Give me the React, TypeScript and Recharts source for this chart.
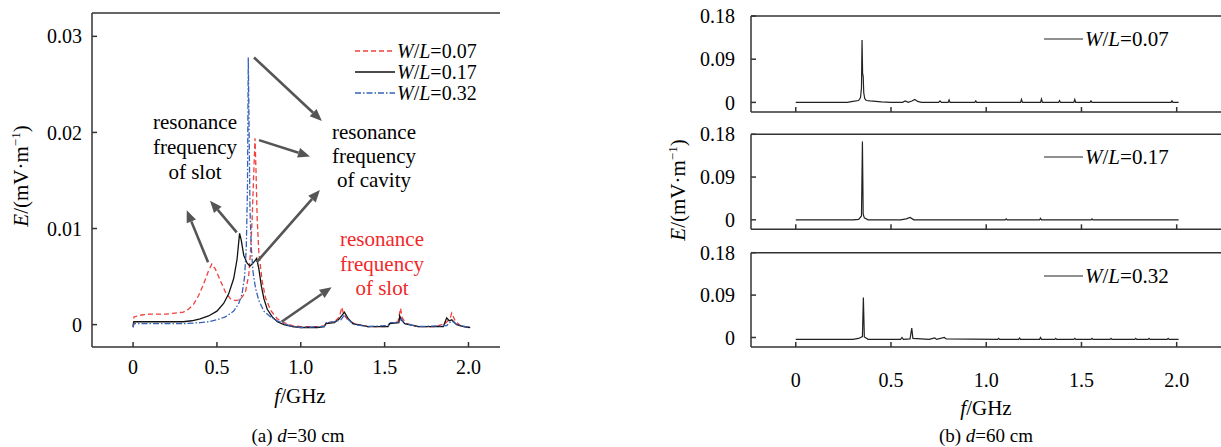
import React from 'react';
import { LineChart, Line, XAxis, YAxis, ReferenceLine } from 'recharts';

const FONT = '"Liberation Serif", "Times New Roman", serif';
const AXIS = '#333';

// ---- (a) d = 30 cm : f in GHz, E in mV/m ----
const fA07 = [0, 0.005, 0.05, 0.1, 0.2, 0.25, 0.3, 0.33, 0.36, 0.39, 0.42, 0.45, 0.47, 0.49, 0.52, 0.55, 0.58, 0.61, 0.64, 0.67, 0.69, 0.7, 0.71, 0.72, 0.727, 0.733, 0.74, 0.75, 0.77, 0.79, 0.82, 0.86, 0.9, 0.95, 1.0, 1.1, 1.14, 1.16, 1.2, 1.23, 1.245, 1.255, 1.28, 1.32, 1.4, 1.5, 1.53, 1.58, 1.595, 1.605, 1.63, 1.7, 1.8, 1.86, 1.89, 1.9, 1.92, 1.95, 2.0, 2.01];
const eA07 = [-0.0002, 0.0008, 0.001, 0.0011, 0.0011, 0.0012, 0.0013, 0.0016, 0.0021, 0.003, 0.0042, 0.0056, 0.0063, 0.0058, 0.0046, 0.0034, 0.0027, 0.0025, 0.0026, 0.0034, 0.0052, 0.0075, 0.011, 0.016, 0.0194, 0.016, 0.011, 0.0075, 0.0045, 0.0028, 0.0015, 0.0006, 0.0002, -0.0001, -0.0002, -0.0002, -0.0001, 0.0002, 0.0003, 0.0008, 0.0018, 0.0011, 0.0005, 0.0001, -0.0002, -0.0002, 0.0001, 0.0003, 0.0017, 0.0007, 0.0001, -0.0002, -0.0002, 0.0001, 0.0006, 0.0012, 0.0004, -0.0001, -0.0003, -0.0003];

const fA17 = [0, 0.005, 0.1, 0.2, 0.3, 0.35, 0.4, 0.45, 0.5, 0.54, 0.57, 0.6, 0.62, 0.635, 0.645, 0.66, 0.68, 0.697, 0.71, 0.725, 0.737, 0.75, 0.765, 0.78, 0.8, 0.83, 0.86, 0.9, 0.95, 1.0, 1.1, 1.14, 1.15, 1.2, 1.23, 1.26, 1.28, 1.31, 1.4, 1.52, 1.53, 1.585, 1.59, 1.6, 1.62, 1.7, 1.85, 1.87, 1.885, 1.9, 1.93, 1.97, 2.01];
const eA17 = [-0.0002, 0.0003, 0.0003, 0.0003, 0.0003, 0.0004, 0.0006, 0.0009, 0.0014, 0.0022, 0.0032, 0.0048, 0.0068, 0.0095, 0.0088, 0.0072, 0.0064, 0.0061, 0.0063, 0.0066, 0.0069, 0.0058, 0.004, 0.0027, 0.0016, 0.0008, 0.0003, 0, -0.0002, -0.0003, -0.0003, -0.0002, 0.0001, 0.0002, 0.0006, 0.0013, 0.0007, 0.0001, -0.0002, -0.0002, 0.0001, 0.0002, 0.0009, 0.0005, 0.0001, -0.0002, -0.0002, 0.0007, 0.0004, 0.0005, 0, -0.0002, -0.0003];

const fA32 = [0, 0.005, 0.1, 0.2, 0.3, 0.4, 0.45, 0.5, 0.55, 0.6, 0.63, 0.65, 0.665, 0.675, 0.682, 0.687, 0.692, 0.697, 0.705, 0.715, 0.73, 0.75, 0.78, 0.82, 0.86, 0.9, 0.95, 1.0, 1.14, 1.15, 1.2, 1.24, 1.26, 1.29, 1.32, 1.4, 1.52, 1.53, 1.58, 1.6, 1.62, 1.7, 1.87, 1.9, 1.93, 2.01];
const eA32 = [-0.0003, 0.0001, 0.0001, 0.0001, 0.0001, 0.0002, 0.0003, 0.0005, 0.0008, 0.0014, 0.0022, 0.0032, 0.005, 0.008, 0.014, 0.0278, 0.02, 0.012, 0.008, 0.0055, 0.0038, 0.0025, 0.0014, 0.0008, 0.0004, 0.0001, -0.0002, -0.0003, -0.0002, 0.0002, 0.0003, 0.0005, 0.001, 0.0004, 0, -0.0002, -0.0001, 0.0002, 0.0002, 0.0006, 0.0001, -0.0002, -0.0001, 0.0004, 0, -0.0003];

// ---- (b) d = 60 cm ----
const fB07 = [0, 0.1, 0.2, 0.27, 0.3, 0.33, 0.34, 0.345, 0.348, 0.351, 0.354, 0.357, 0.362, 0.37, 0.39, 0.42, 0.45, 0.5, 0.56, 0.575, 0.59, 0.61, 0.625, 0.64, 0.66, 0.75, 0.757, 0.765, 0.8, 0.805, 0.81, 0.94, 0.945, 0.95, 1.18, 1.185, 1.19, 1.285, 1.29, 1.295, 1.38, 1.385, 1.39, 1.46, 1.465, 1.47, 1.545, 1.55, 1.555, 1.97, 1.975, 1.98, 2.01];
const eB07 = [0, 0, 0, 0, 0.002, 0.004, 0.01, 0.03, 0.13, 0.06, 0.055, 0.02, 0.008, 0.004, 0.003, 0.002, 0.001, 0, 0, 0.003, 0, 0.003, 0.006, 0.002, 0, 0, 0.003, 0, 0, 0.005, 0, 0, 0.003, 0, 0, 0.006, 0, 0, 0.007, 0, 0, 0.004, 0, 0, 0.006, 0, 0, 0.003, 0, 0, 0.003, 0, 0];

const fB17 = [0, 0.3, 0.33, 0.345, 0.35, 0.354, 0.36, 0.38, 0.55, 0.58, 0.6, 0.62, 1.0, 1.1, 1.105, 1.11, 1.28, 1.285, 1.29, 1.55, 1.555, 1.56, 2.01];
const eB17 = [0, 0, 0.001, 0.008, 0.165, 0.012, 0.004, 0, 0, 0.002, 0.005, 0, 0, 0, 0.002, 0, 0, 0.003, 0, 0, 0.002, 0, 0];

const fB32 = [0, 0.3, 0.33, 0.35, 0.355, 0.36, 0.38, 0.55, 0.558, 0.565, 0.6, 0.609, 0.615, 0.7, 0.73, 0.74, 0.78, 0.79, 1.06, 1.065, 1.07, 1.17, 1.175, 1.18, 1.28, 1.285, 1.29, 1.36, 1.365, 1.37, 1.46, 1.465, 1.47, 1.55, 1.555, 1.56, 1.65, 1.655, 1.66, 1.78, 1.785, 1.79, 1.85, 1.855, 1.86, 1.95, 1.955, 1.96, 2.01];
const eB32 = [-0.004, -0.004, -0.002, 0.002, 0.085, 0.001, -0.004, -0.004, 0, -0.004, -0.003, 0.02, -0.002, -0.004, -0.001, -0.004, 0, -0.003, -0.004, -0.002, -0.004, -0.004, -0.001, -0.004, -0.004, 0, -0.004, -0.004, -0.002, -0.004, -0.004, -0.002, -0.004, -0.004, -0.002, -0.004, -0.004, -0.002, -0.004, -0.004, -0.002, -0.004, -0.004, -0.002, -0.004, -0.004, -0.002, -0.004, -0.004];

const xTicks = [0, 0.5, 1, 1.5, 2];
const yTicksA = [0, 0.01, 0.02, 0.03];
const yTicksB = [0, 0.09, 0.18];

// arrows of panel (a), [from, to] in data coordinates
const arrowsA = [
  [[0.721, 0.0278], [1.126, 0.0212]],
  [[0.751, 0.0192], [1.055, 0.0175]],
  [[0.737, 0.0065], [1.114, 0.014]],
  [[0.618, 0.0096], [0.459, 0.0129]],
  [[0.447, 0.0065], [0.32, 0.0119]],
  [[0.886, 0.0003], [1.184, 0.0039]],
];

const zip = (f: number[], e: number[]) => f.map((x, i) => ({ f: x, e: e[i] }));

const seriesA = [
  { name: '0.07', data: zip(fA07, eA07), color: '#f0403c', dash: '5 3' },
  { name: '0.17', data: zip(fA17, eA17), color: '#111', dash: undefined },
  { name: '0.32', data: zip(fA32, eA32), color: '#3562b8', dash: '6 2 1.5 2' },
];

const panelsB = [
  { name: '0.07', data: zip(fB07, eB07), top: 16, h: 96 },
  { name: '0.17', data: zip(fB17, eB17), top: 134.3, h: 95 },
  { name: '0.32', data: zip(fB32, eB32), top: 252.7, h: 94.2 },
];

const fmtX = (v: number) => (v === 0 ? '0' : v.toFixed(1));
const fmtY = (v: number) => (v === 0 ? '0' : v.toFixed(2));

const tickStyle = { fill: '#000', fontSize: 20, fontFamily: FONT };

const Arrow = (p: any) => {
  const { x1, y1, x2, y2 } = p;
  const a = Math.atan2(y2 - y1, x2 - x1);
  const len = 12;
  const half = 5;
  const bx = x2 - len * Math.cos(a);
  const by = y2 - len * Math.sin(a);
  const nx = -Math.sin(a) * half;
  const ny = Math.cos(a) * half;
  return (
    <g>
      <line x1={x1} y1={y1} x2={bx} y2={by} stroke="#555" strokeWidth={2.6} />
      <polygon points={`${x2},${y2} ${bx + nx},${by + ny} ${bx - nx},${by - ny}`} fill="#555" />
    </g>
  );
};

const WL = ({ v }: { v: string }) => (
  <span><i>W</i>/<i>L</i>={v}</span>
);

const abs = (left: number, top: number, extra: React.CSSProperties = {}): React.CSSProperties => ({
  position: 'absolute', left, top, ...extra,
});

const centered = (cx: number, cy: number, extra: React.CSSProperties = {}): React.CSSProperties => ({
  position: 'absolute', left: cx, top: cy, transform: 'translate(-50%, -50%)', whiteSpace: 'nowrap', ...extra,
});

const yTitle = (
  <span><i>E</i>/(mV·m<sup style={{ fontSize: 13 }}>−1</sup>)</span>
);

export default function App() {
  return (
    <div style={{ position: 'absolute', left: 0, top: 0, width: 1221, height: 447, background: '#fff', fontFamily: FONT, fontSize: 21, color: '#000', overflow: 'hidden' }}>
      {/* (a) d=30 cm */}
      <div style={abs(0, 0)}>
        <LineChart width={520} height={447} margin={{ top: 13, right: 20, left: 32, bottom: 60 }}>
          <XAxis type="number" dataKey="f" domain={[-0.245, 2.188]} ticks={xTicks} allowDataOverflow
            tickFormatter={fmtX} tickSize={-5} tickMargin={18} height={40}
            stroke={AXIS} strokeWidth={1.5} tick={tickStyle} />
          <YAxis type="number" dataKey="e" domain={[-0.00233, 0.03243]} ticks={yTicksA} allowDataOverflow
            tickFormatter={fmtY} tickSize={-5} tickMargin={15} width={60}
            stroke={AXIS} strokeWidth={1.5} tick={tickStyle} />
          <ReferenceLine y={0.03243} stroke={AXIS} strokeWidth={1.5} ifOverflow="visible" />
          {seriesA.map((s) => (
            <Line key={s.name} data={s.data} dataKey="e" type="linear" stroke={s.color}
              strokeWidth={1.3} strokeDasharray={s.dash} dot={false} isAnimationActive={false} />
          ))}
          {arrowsA.map((a, i) => (
            <ReferenceLine key={i} ifOverflow="visible"
              segment={[{ x: a[0][0], y: a[0][1] }, { x: a[1][0], y: a[1][1] }]}
              shape={Arrow} />
          ))}
        </LineChart>
      </div>

      {/* legend (a) */}
      {seriesA.map((s, i) => (
        <div key={s.name} style={{ position: 'absolute', left: 355, top: 51 + i * 21, transform: 'translateY(-50%)', display: 'flex', alignItems: 'center', whiteSpace: 'nowrap', lineHeight: '18px', fontSize: 20 }}>
          <svg width={42} height={6}><line x1={0} y1={3} x2={40} y2={3} stroke={s.color} strokeWidth={1.3} strokeDasharray={s.dash} /></svg>
          <WL v={s.name} />
        </div>
      ))}

      {/* annotations (a) */}
      <div style={{ position: 'absolute', left: 195, top: 110, transform: 'translateX(-50%)', textAlign: 'center', lineHeight: '24.8px', whiteSpace: 'nowrap' }}>
        resonance<br />frequency<br />of slot
      </div>
      <div style={{ position: 'absolute', left: 374, top: 119.5, transform: 'translateX(-50%)', textAlign: 'center', lineHeight: '24.2px', whiteSpace: 'nowrap' }}>
        resonance<br />frequency<br />of cavity
      </div>
      <div style={{ position: 'absolute', left: 382, top: 227, transform: 'translateX(-50%)', textAlign: 'center', lineHeight: '24.5px', whiteSpace: 'nowrap', color: '#f0282a' }}>
        resonance<br />frequency<br />of slot
      </div>

      <div style={centered(21, 176, { transform: 'translate(-50%, -50%) rotate(-90deg)' })}>{yTitle}</div>
      <div style={centered(300, 396)}><i>f</i>/GHz</div>
      <div style={centered(298, 436, { fontSize: 19 })}>(a) <i>d</i>=30 cm</div>

      {/* (b) d=60 cm */}
      {panelsB.map((p, i) => {
        const last = i === panelsB.length - 1;
        return (
          <div key={p.name} style={abs(680, 0)}>
            <LineChart width={541} height={447} margin={{ top: p.top, right: 0, left: 0, bottom: 447 - p.top - p.h - 40 }}>
              <XAxis type="number" dataKey="f" domain={[-0.235, 2.2326]} ticks={xTicks} allowDataOverflow
                tickFormatter={last ? fmtX : () => ''} tickSize={-5} tickMargin={31} height={40}
                stroke={AXIS} strokeWidth={1.5} tick={tickStyle} />
              <YAxis type="number" dataKey="e" domain={[-0.02, 0.18]} ticks={yTicksB} allowDataOverflow
                tickFormatter={fmtY} tickSize={-5} tickMargin={21} width={71}
                stroke={AXIS} strokeWidth={1.5} tick={tickStyle} />
              <ReferenceLine y={0.18} stroke={AXIS} strokeWidth={1.5} ifOverflow="visible" />
              <Line data={p.data} dataKey="e" type="linear" stroke="#222" strokeWidth={1.2}
                dot={false} isAnimationActive={false} />
            </LineChart>
          </div>
        );
      })}

      {/* legends (b) */}
      {panelsB.map((p) => (
        <div key={p.name} style={{ position: 'absolute', left: 1044, top: p.top + 23, transform: 'translateY(-50%)', display: 'flex', alignItems: 'center', whiteSpace: 'nowrap', lineHeight: '20px' }}>
          <svg width={41} height={6}><line x1={0} y1={3} x2={39} y2={3} stroke="#222" strokeWidth={1.2} /></svg>
          <WL v={p.name} />
        </div>
      ))}

      <div style={centered(678, 190, { transform: 'translate(-50%, -50%) rotate(-90deg)' })}>{yTitle}</div>
      <div style={centered(986, 408)}><i>f</i>/GHz</div>
      <div style={centered(986, 436, { fontSize: 19 })}>(b) <i>d</i>=60 cm</div>
    </div>
  );
}
